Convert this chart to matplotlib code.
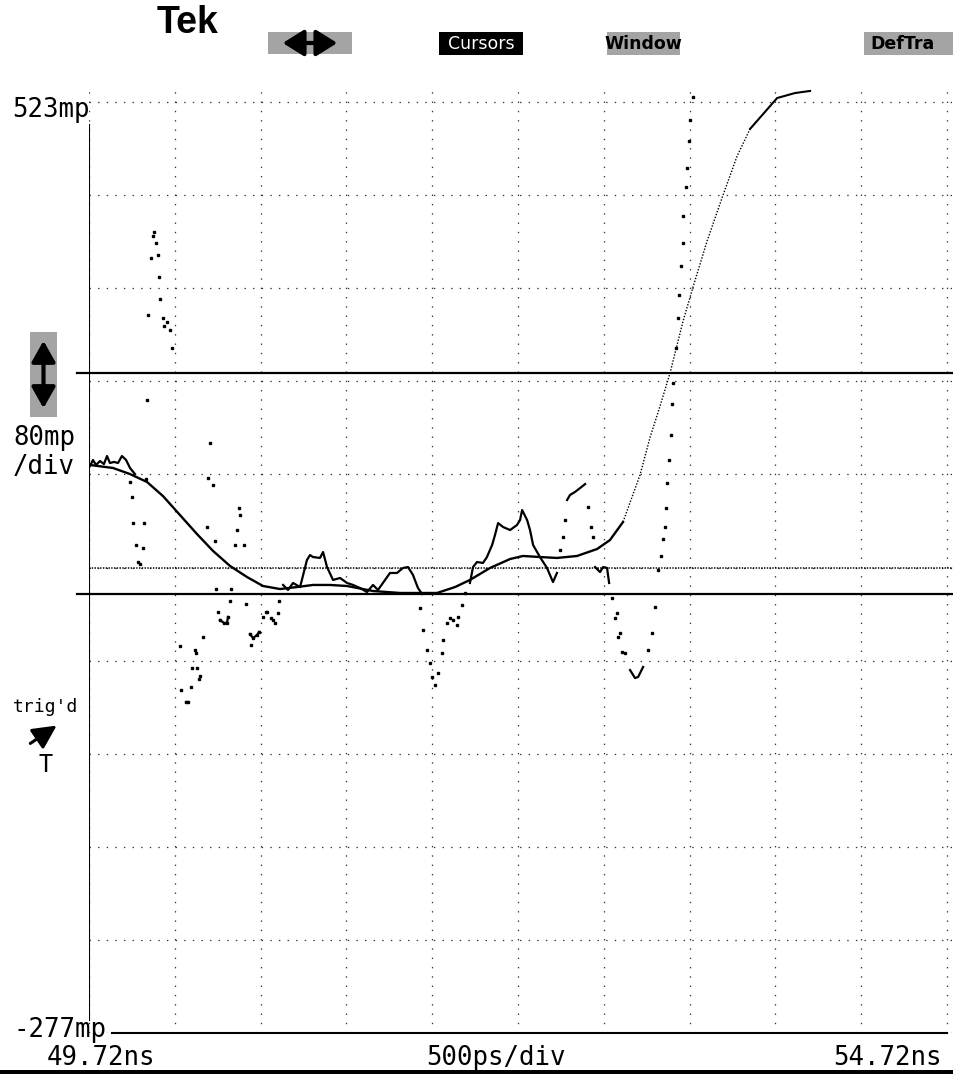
import numpy as np
import matplotlib.pyplot as plt
from matplotlib.patches import Rectangle, FancyArrowPatch

plt.rcParams['lines.scale_dashes'] = False

# scope settings (ns, mp)
t_left = 49.72; t_right = 54.72; t_div = 0.5
v_top = 523; v_bot = -277; v_div = 80
cursor_levels = [290, 100]
ref_level = 123

# smooth trace
a_t = [49.726, 49.860, 49.959, 50.058, 50.151, 50.250, 50.349, 50.443, 50.542, 50.641,
       50.734, 50.833, 50.932, 51.025, 51.124, 51.224, 51.375, 51.533, 51.748, 51.853,
       51.940, 52.057, 52.174, 52.249, 52.348, 52.447, 52.564, 52.681, 52.756, 52.832,
       52.931, 52.990, 53.048, 53.106, 53.182, 53.240, 53.322, 53.415, 53.497, 53.572,
       53.730, 53.834, 53.922]
a_v = [211.1, 208.5, 203.3, 196.5, 184.4, 168.1, 151.8, 137.2, 124.3, 114.8,
       107.1, 104.5, 106.2, 108.0, 108.0, 107.1, 102.8, 101.1, 101.1, 106.2,
       112.3, 122.6, 130.3, 132.9, 132.0, 131.2, 132.9, 138.9, 146.6, 162.1,
       202.5, 235.1, 261.8, 290.1, 334.8, 364.0, 403.6, 443.1, 476.6, 499.8,
       526.4, 530.7, 532.5]

# noisy trace, slow stretches
b_t = [[49.726, 49.743, 49.761, 49.784, 49.807, 49.825, 49.842, 49.866, 49.889, 49.912, 49.936, 49.959, 49.988],
       [50.851, 50.880, 50.909, 50.950, 50.990, 51.008, 51.025, 51.066, 51.084, 51.107, 51.142, 51.183, 51.224,
        51.259, 51.299, 51.340, 51.375, 51.404, 51.474, 51.515, 51.550, 51.579, 51.608, 51.637, 51.661],
       [51.940, 51.958, 51.981, 52.016, 52.039, 52.069, 52.086, 52.104, 52.133, 52.174, 52.214, 52.232, 52.244,
        52.273, 52.290, 52.308, 52.348, 52.389, 52.424, 52.447],
       [52.506, 52.523, 52.552, 52.582, 52.611],
       [52.669, 52.698, 52.716, 52.739, 52.751],
       [52.873, 52.902, 52.920, 52.949],
       [50.285, 50.297],
       [50.483, 50.507, 50.524, 50.530],
       [50.658, 50.676, 50.699, 50.711]]
b_v = [[210.2, 215.4, 211.1, 214.5, 211.9, 218.8, 212.8, 213.7, 212.8, 218.8, 215.4, 208.5, 203.3],
       [108.0, 103.7, 109.7, 106.2, 129.4, 133.7, 132.0, 131.2, 136.3, 123.4, 112.3, 114.0, 109.7,
        108.0, 105.4, 101.9, 108.0, 103.7, 118.3, 118.3, 122.6, 123.4, 116.6, 105.4, 100.2],
       [109.7, 123.4, 127.7, 126.9, 132.0, 142.3, 150.9, 161.2, 157.8, 155.2, 159.5, 163.8, 172.4,
        163.8, 155.2, 142.3, 132.0, 122.6, 110.5, 118.3],
       [181.0, 185.3, 187.9, 191.3, 194.7],
       [123.4, 119.1, 123.4, 122.6, 109.7],
       [34.9, 28.0, 28.9, 37.5],
       [7.4, 7.4],
       [77.9, 75.3, 75.3, 80.5],
       [65.8, 62.4, 65.0, 67.6]]

# noisy trace, isolated samples on fast edges
c_t = [49.959, 49.971, 49.976, 49.994, 50.006, 50.017, 50.035, 50.041, 50.052, 50.058, 50.064, 50.081,
       50.093, 50.099, 50.110, 50.122, 50.128, 50.134, 50.151, 50.157, 50.175, 50.192, 50.204,
       50.250, 50.256, 50.285, 50.297, 50.314, 50.320, 50.338, 50.344, 50.349, 50.361, 50.367, 50.384,
       50.408, 50.414, 50.425, 50.443, 50.454, 50.460, 50.472, 50.483, 50.507, 50.524, 50.530, 50.542,
       50.548, 50.571, 50.583, 50.594, 50.600, 50.623, 50.635,
       50.658, 50.664, 50.676, 50.699, 50.711, 50.734, 50.752, 50.757, 50.781, 50.792, 50.804, 50.821, 50.827,
       51.649, 51.667, 51.690, 51.707, 51.719, 51.736, 51.754, 51.777, 51.783, 51.806, 51.824, 51.841,
       51.865, 51.871, 51.894, 51.911,
       52.465, 52.482, 52.494, 52.628, 52.646, 52.657,
       52.768, 52.785, 52.797, 52.803, 52.815, 52.826, 52.844, 52.978, 53.001, 53.019, 53.036, 53.054,
       53.065, 53.077, 53.083, 53.089, 53.100, 53.112, 53.118, 53.124, 53.141, 53.153, 53.159, 53.170,
       53.182, 53.182, 53.199, 53.205, 53.217, 53.223, 53.240]
c_v = [196.5, 183.6, 161.2, 142.3, 127.7, 126.0, 139.7, 161.2, 199.0, 266.9, 340.0, 388.9,
       407.9, 411.3, 401.8, 391.5, 372.6, 353.7, 337.4, 330.5, 334.0, 327.1, 311.6,
       55.5, 17.7, 7.4, 7.4, 20.3, 36.6, 52.1, 49.5, 36.6, 27.2, 29.8, 63.3,
       157.8, 199.9, 230.0, 193.9, 145.8, 104.5, 84.8, 77.9, 75.3, 75.3, 80.5, 94.2,
       104.5, 142.3, 155.2, 174.1, 168.1, 142.3, 91.6,
       65.8, 56.4, 62.4, 65.0, 67.6, 80.5, 84.8, 84.8, 79.6, 77.9, 75.3, 83.9, 94.2,
       88.2, 69.3, 52.1, 40.9, 28.9, 22.0, 32.3, 49.5, 60.7, 75.3, 79.6, 77.9,
       73.6, 80.5, 90.8, 101.1,
       138.0, 149.2, 163.8, 175.0, 157.8, 149.2,
       96.8, 79.6, 83.9, 63.3, 66.7, 50.4, 49.5, 52.1, 66.7, 89.0, 120.8, 132.9,
       147.5, 157.8, 174.1, 195.6, 215.4, 236.9, 263.5, 281.5, 311.6, 337.4, 357.2, 381.9,
       401.8, 425.0, 450.0, 466.3, 489.5, 507.5, 527.3]

# labels
top_label = '523mp'
scale_label = ['80mp', '/div']
bot_label = '-277mp'
time_labels = ['49.72ns', '500ps/div', '54.72ns']
menu_labels = ['Cursors', 'Window', 'DefTra']

W, H = 954, 1078
fig = plt.figure(figsize=(W/100, H/100), dpi=100)
def fx(px): return px/W
def fy(py): return 1-py/H

mono = 'DejaVu Sans Mono'
narrow = ['Liberation Sans Narrow', 'DejaVu Sans']

ax = fig.add_axes([fx(89), fy(1033), fx(954)-fx(89), fy(85)-fy(1033)])
ax.set_xlim(t_left, t_left + (954-89)/85.8*t_div)
ax.set_ylim(v_bot, v_top + (102-85)/93.1*v_div)
ax.set_xticks(np.arange(t_left, t_right+0.01, t_div))
ax.set_yticks(np.arange(v_bot, v_top+1, v_div))
ax.grid(axis='x', color='#333333', lw=0.9, linestyle=(0, (1.0, 5.7)))
ax.grid(axis='y', color='#333333', lw=0.9, linestyle=(0, (1.0, 5.2)))
ax.set_axisbelow(True)
ax.tick_params(length=0, labelbottom=False, labelleft=False)
for s in ax.spines.values():
    s.set_visible(False)

# frame pieces
ax.axvline(t_left, ymin=0.0137, ymax=0.9575, color='k', lw=1.5)
ax.axhline(v_bot, xmin=23/865, xmax=0.992, color='k', lw=1.5, clip_on=False)
ax.axhline(ref_level, color='k', lw=1.1, linestyle=(0, (1.0, 1.0)))
for lv in cursor_levels:
    ax.axhline(lv, xmin=-12/865, xmax=1, color='k', lw=1.6, clip_on=False)

# traces
ax.plot(a_t[:30], a_v[:30], color='k', lw=1.7)
ax.plot(a_t[29:40], a_v[29:40], color='k', lw=1.0, linestyle=(0, (1.0, 1.2)))
ax.plot(a_t[39:], a_v[39:], color='k', lw=1.5)
for st, sv in zip(b_t, b_v):
    ax.plot(st, sv, color='k', lw=1.6)
ax.plot(c_t, c_v, ls='none', marker='s', ms=2.0, color='k', mec='k')

# left side texts
fig.text(fx(12), fy(117), top_label, family=mono, fontsize=18.5, va='baseline')
fig.text(fx(13), fy(445), scale_label[0], family=mono, fontsize=18.5, va='baseline')
fig.text(fx(13), fy(474), scale_label[1], family=mono, fontsize=18.5, va='baseline')
fig.text(fx(13), fy(1037), bot_label, family=mono, fontsize=18.5, va='baseline')
fig.text(fx(13), fy(712), "trig'd", family=mono, fontsize=13, va='baseline')
fig.text(fx(46), fy(772), 'T', family=mono, fontsize=17, va='baseline', ha='center')
fig.add_artist(FancyArrowPatch((fx(28), fy(745)), (fx(59), fy(724)), transform=fig.transFigure,
                               arrowstyle='-|>,head_length=0.9,head_width=0.45', mutation_scale=16,
                               lw=2.2, color='k'))

# bottom texts
fig.text(fx(47), fy(1065), time_labels[0], family=mono, fontsize=18.5, va='baseline')
fig.text(fx(426), fy(1065), time_labels[1], family=mono, fontsize=18.5, va='baseline')
fig.text(fx(833), fy(1065), time_labels[2], family=mono, fontsize=18.5, va='baseline')
fig.add_artist(Rectangle((0, fy(1074)), 1, fy(1070)-fy(1074), transform=fig.transFigure,
                         facecolor='k', edgecolor='none'))

# top menu
fig.text(fx(157), fy(33), 'Tek', family=['Liberation Sans', 'DejaVu Sans'], fontweight='bold',
         fontsize=27, va='baseline')
stip = '#a4a4a4'
def box(x0, x1, y0, y1, c):
    fig.add_artist(Rectangle((fx(x0), fy(y1)), fx(x1)-fx(x0), fy(y0)-fy(y1),
                             transform=fig.transFigure, facecolor=c, edgecolor='none'))
box(268, 352, 32, 54, stip)
fig.add_artist(FancyArrowPatch((fx(280), fy(43)), (fx(340), fy(43)), transform=fig.transFigure,
                               arrowstyle='<|-|>,head_length=0.8,head_width=0.5', mutation_scale=16,
                               lw=3, color='k'))
box(439, 523, 32, 55, 'k')
fig.text(fx(481), fy(44), menu_labels[0], family=narrow, fontsize=12.5, color='white',
         ha='center', va='center')
box(607, 680, 32, 55, stip)
fig.text(fx(643), fy(44), menu_labels[1], family=narrow, fontsize=12.5, fontweight='bold',
         ha='center', va='center')
box(864, 954, 32, 55, stip)
fig.text(fx(870), fy(44), menu_labels[2], family=narrow, fontsize=12.5, fontweight='bold',
         ha='left', va='center')

# vertical position box
box(30, 57, 332, 417, stip)
fig.add_artist(FancyArrowPatch((fx(43.5), fy(338)), (fx(43.5), fy(411)), transform=fig.transFigure,
                               arrowstyle='<|-|>,head_length=0.8,head_width=0.45', mutation_scale=16,
                               lw=3, color='k'))

fig.savefig('out.png', dpi=100)
